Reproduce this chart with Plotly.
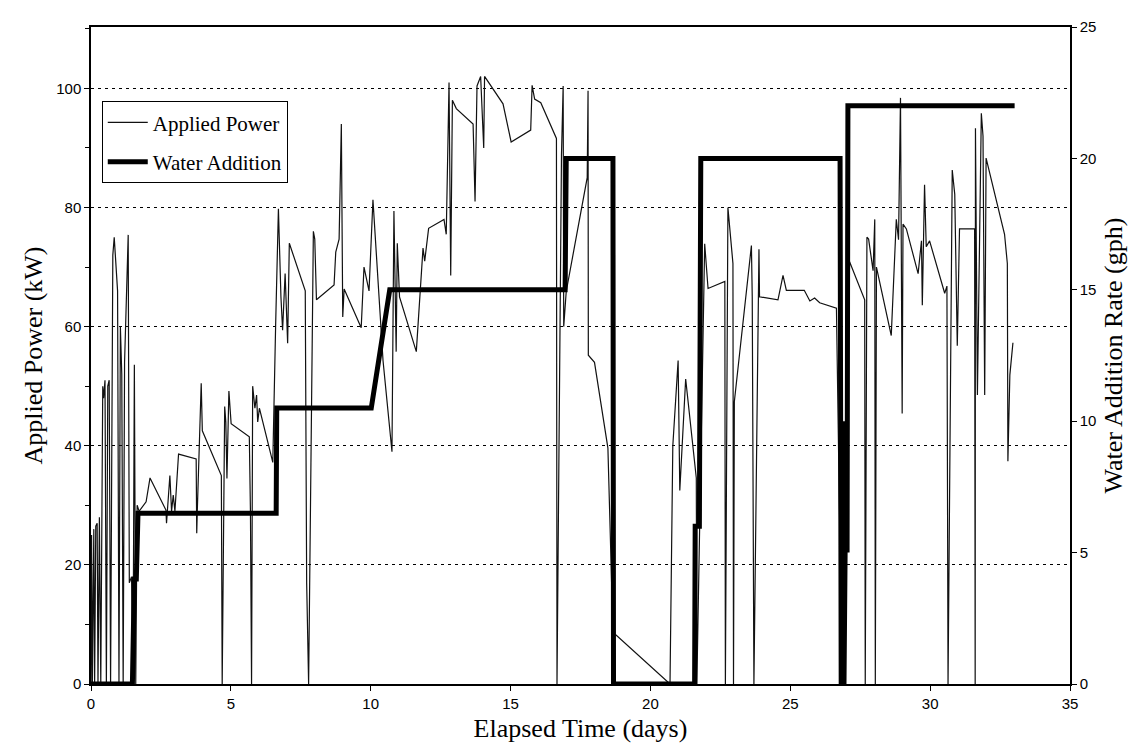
import plotly.graph_objects as go

# Applied power (kW) vs elapsed time (days)
power_days = [
    0.00, 0.02, 0.05, 0.10, 0.13, 0.17, 0.22, 0.25, 0.30, 0.35, 0.42, 0.45, 0.50, 0.55,
    0.60, 0.65, 0.70, 0.78, 0.83, 0.88, 0.95, 1.00, 1.05, 1.10, 1.15, 1.20, 1.27, 1.33,
    1.37, 1.45, 1.50, 1.55, 1.60, 1.65, 1.72, 1.97, 2.11, 2.68, 2.70, 2.82, 2.88, 2.94,
    3.00, 3.13, 3.76, 3.78, 3.80, 3.94, 3.98, 4.66, 4.69, 4.78, 4.82, 4.86, 4.93, 5.01,
    5.66, 5.70, 5.74, 5.78, 5.86, 5.92, 5.96, 6.02, 6.50, 6.60, 6.70, 6.79, 6.85, 6.94,
    7.03, 7.09, 7.66, 7.71, 7.78, 7.95, 8.00, 8.06, 8.69, 8.75, 8.87, 8.95, 9.00, 9.05,
    9.66, 9.76, 9.94, 10.08, 10.44, 10.76, 10.83, 10.91, 10.95, 11.03, 11.63, 11.87,
    11.93, 12.07, 12.62, 12.70, 12.80, 12.86, 12.92, 13.06, 13.66, 13.73, 13.80, 13.93,
    14.04, 14.07, 14.73, 15.02, 15.72, 15.77, 15.86, 16.08, 16.64, 16.66, 16.82, 16.88,
    16.90, 16.99, 17.74, 17.77, 17.78, 18.00, 18.48, 18.66, 20.70, 20.80, 20.88, 20.99,
    21.05, 21.26, 21.64, 21.66, 21.94, 22.06, 22.66, 22.68, 22.77, 22.95, 22.97, 23.00,
    23.61, 23.64, 23.70, 23.88, 23.90, 24.56, 24.74, 24.86, 25.50, 25.70, 25.87, 26.05,
    26.65, 26.85, 27.12, 27.66, 27.68, 27.74, 27.80, 27.96, 28.02, 28.04, 28.08, 28.61,
    28.79, 28.87, 28.94, 29.00, 29.03, 29.15, 29.57, 29.69, 29.72, 29.80, 29.86, 29.98,
    30.52, 30.60, 30.64, 30.79, 30.88, 30.97, 31.05, 31.59, 31.61, 31.62, 31.69, 31.83,
    31.89, 31.95, 32.00, 32.66, 32.76, 32.78, 32.85, 32.96,
]
power_kw = [
    0, 25, 0, 26, 0, 26.5, 27, 0, 28, 0, 50, 48, 51, 0,
    50, 51, 0, 72, 75, 71, 66, 0, 60, 52, 0, 54, 68, 75.4,
    17, 18, 0, 53.6, 0, 30, 29, 30.6, 34.6, 29.2, 27, 35, 29, 31.7,
    29, 38.6, 37.8, 25.3, 29, 50.5, 42.5, 35, 0, 46.6, 44, 34.5, 49.2, 43.7,
    41.5, 29, 0, 50, 46.3, 48.5, 44, 46.3, 37.2, 60, 79.8, 65, 59.4, 68.9,
    57.2, 74, 66, 17, 0, 76, 74.7, 64.5, 67, 72.5, 74.7, 94, 61.6, 66.3,
    59.8, 70, 66, 81.3, 54.3, 39, 79.4, 55.8, 74, 65, 55.8, 73.2,
    71, 76.5, 78, 75.5, 101, 68.6, 98, 96.6, 94, 81, 100.4, 102,
    90, 102, 97.4, 91, 93, 100.5, 98.2, 97.6, 91.6, 0, 88.8, 100.4,
    60, 65.9, 85, 99.6, 55.2, 54, 39.6, 8.7, 0, 40, 46, 54.3,
    32.5, 51.2, 34.6, 0, 73.9, 66.4, 67.6, 0, 80, 70.6, 0, 47.4,
    73.6, 65, 0, 73, 65, 64.5, 68.6, 66.1, 66.1, 64.3, 64.8, 64,
    63.1, 0, 70.9, 64.5, 0, 75, 74.7, 69.4, 78, 0, 70, 58.5,
    78, 74.6, 98.4, 45.4, 77.2, 76.4, 68.9, 74.4, 63.6, 83.8, 73.4, 74.4,
    65.6, 66.8, 0, 86.3, 82.2, 56.8, 76.4, 76.4, 0, 93.3, 48.5, 95.8,
    92, 48.5, 88.3, 75.5, 70.6, 37.4, 51.9, 57.3,
]

# Water addition rate (gph) vs elapsed time (days)
water_days = [0.0, 1.48, 1.55, 1.62, 1.68, 6.62, 6.64, 10.02, 10.68, 16.95, 16.99,
              18.66, 18.68, 21.58, 21.60, 21.75, 21.80, 26.78, 26.82, 26.88, 26.92,
              26.97, 27.00, 27.03, 27.06, 33.02]
water_gph = [0, 0, 4, 4, 6.5, 6.5, 10.5, 10.5, 15.0, 15.0, 20.0,
             20.0, 0, 0, 6.0, 6.0, 20.0, 20.0, 0, 10, 0,
             5, 10, 5, 22.0, 22.0]

x_ticks = [0, 5, 10, 15, 20, 25, 30, 35]
left_ticks = [0, 20, 40, 60, 80, 100]
right_ticks = [0, 5, 10, 15, 20, 25]

serif = "Liberation Serif"
sans = "Liberation Sans"

fig = go.Figure()
fig.add_trace(go.Scatter(
    x=power_days, y=power_kw, mode="lines", name="Applied Power",
    legendgroup="p", line=dict(color="#111111", width=1.2), yaxis="y",
))
fig.add_trace(go.Scatter(
    x=water_days, y=water_gph, mode="lines", name="Water Addition",
    legendgroup="w", line=dict(color="black", width=5), yaxis="y2",
))

fig.update_layout(
    width=1142, height=750, autosize=False,
    margin=dict(l=83, r=80, t=10, b=74),
    paper_bgcolor="white", plot_bgcolor="white",
    showlegend=True,
    legend=dict(
        x=0.011, y=0.887, xanchor="left", yanchor="top",
        bgcolor="white", bordercolor="black", borderwidth=1,
        font=dict(family=serif, size=21, color="black"),
        itemwidth=40, tracegroupgap=9,
    ),
    xaxis=dict(
        range=[0, 35], tickvals=x_ticks, ticks="outside", ticklen=5,
        tickcolor="black", showline=True, linecolor="black", linewidth=1.5,
        mirror=True, showgrid=False, zeroline=False,
        tickfont=dict(family=sans, size=15, color="black"),
        title=dict(text="Elapsed Time (days)", font=dict(family=serif, size=26, color="black"), standoff=8),
    ),
    yaxis=dict(
        range=[0, 110.3], tickvals=left_ticks, ticks="outside", ticklen=5,
        tickcolor="black", showline=True, linecolor="black", linewidth=1.5,
        showgrid=True, gridcolor="black", gridwidth=1.3, griddash="3px,4px",
        zeroline=False,
        minor=dict(dtick=10, tick0=0, ticks="outside", ticklen=4, tickcolor="black", showgrid=False),
        tickfont=dict(family=sans, size=15, color="black"),
        title=dict(text="Applied Power (kW)", font=dict(family=serif, size=26, color="black"), standoff=6),
    ),
    yaxis2=dict(
        range=[0, 25], tickvals=right_ticks, overlaying="y", side="right",
        ticks="outside", ticklen=5, tickcolor="black",
        showline=True, linecolor="black", linewidth=1.5,
        showgrid=False, zeroline=False,
        tickfont=dict(family=sans, size=15, color="black"),
        title=dict(text="Water Addition Rate (gph)", font=dict(family=serif, size=26, color="black"), standoff=8),
    ),
)

fig.write_html("out.html")
